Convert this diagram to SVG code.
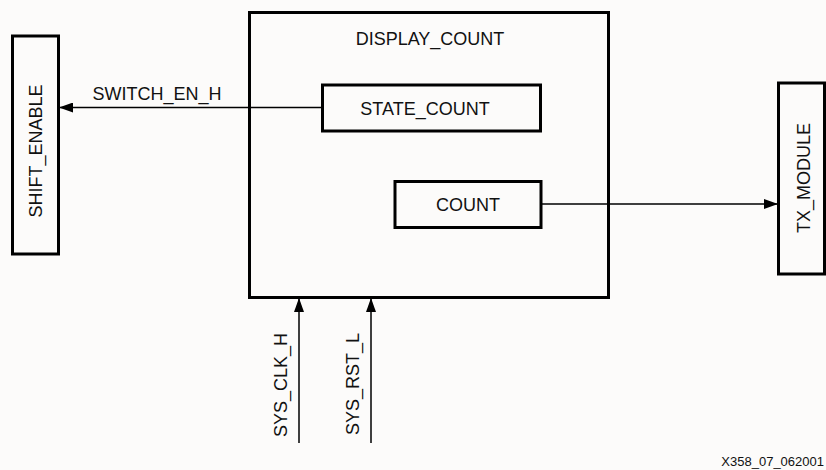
<svg xmlns="http://www.w3.org/2000/svg" width="826" height="470" viewBox="0 0 826 470">
<defs>
<style>
.box{fill:none;stroke:#000;stroke-width:3}
.t{font-family:"Liberation Sans",Arial,sans-serif;font-size:18px;fill:#111}
.w{stroke:#000;stroke-width:1.5;fill:none}
</style>
<marker id="ah" markerWidth="14" markerHeight="10" refX="13" refY="5" orient="auto" markerUnits="userSpaceOnUse">
<path d="M0,0 L14,5 L0,10 Z" fill="#000"/>
</marker>
</defs>
<rect width="826" height="470" fill="#fcfbfa"/>
<g id="shift_enable">
<rect class="box" x="12.5" y="36" width="46" height="218"/>
<text class="t" transform="translate(42,151) rotate(-90)" text-anchor="middle">SHIFT_ENABLE</text>
</g>
<g id="display_count">
<rect class="box" x="249.5" y="12.5" width="359" height="285"/>
<text class="t" x="430" y="45" text-anchor="middle">DISPLAY_COUNT</text>
</g>
<g id="state_count">
<rect class="box" x="322.5" y="85" width="218" height="46"/>
<text class="t" x="425" y="115" text-anchor="middle">STATE_COUNT</text>
</g>
<g id="count">
<rect class="box" x="395" y="181.5" width="146" height="46"/>
<text class="t" x="468" y="211" text-anchor="middle">COUNT</text>
</g>
<g id="tx_module">
<rect class="box" x="778.5" y="83" width="46" height="191"/>
<text class="t" transform="translate(810,178) rotate(-90)" text-anchor="middle">TX_MODULE</text>
</g>
<g id="connectors">
<line class="w" x1="322" y1="107.5" x2="60" y2="107.5" marker-end="url(#ah)"/>
<text class="t" x="157" y="100" text-anchor="middle">SWITCH_EN_H</text>
<line class="w" x1="541" y1="204" x2="777" y2="204" marker-end="url(#ah)"/>
<line class="w" x1="299" y1="443" x2="299" y2="299" marker-end="url(#ah)"/>
<text class="t" transform="translate(287,385) rotate(-90)" text-anchor="middle">SYS_CLK_H</text>
<line class="w" x1="371" y1="443" x2="371" y2="299" marker-end="url(#ah)"/>
<text class="t" transform="translate(359,384) rotate(-90)" text-anchor="middle">SYS_RST_L</text>
</g>
<text x="824" y="466" text-anchor="end" style="font-family:'Liberation Sans',Arial,sans-serif;font-size:13px;fill:#111">X358_07_062001</text>
</svg>
